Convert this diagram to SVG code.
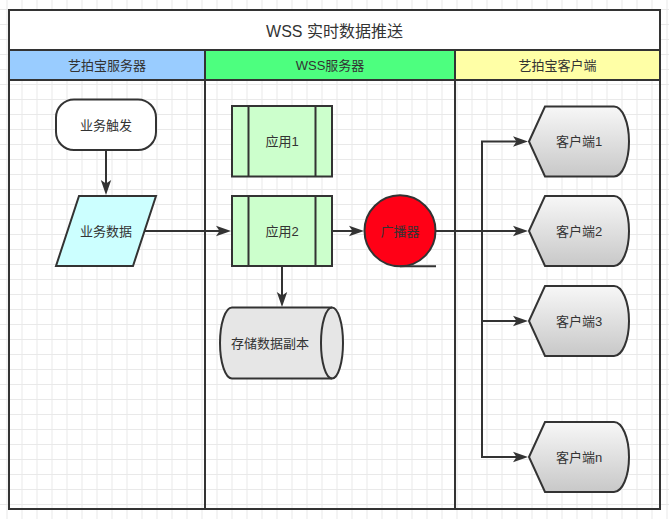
<svg xmlns="http://www.w3.org/2000/svg" width="669" height="519" viewBox="0 0 669 519">
<style>
.ln{fill:none;stroke:#333;stroke-width:2}
.t{font-family:"Liberation Sans","Noto Sans CJK SC",sans-serif;font-size:13px;fill:#333;text-anchor:middle;dominant-baseline:central}
.title{font-size:16px}
.node{stroke:#333;stroke-width:2}
.conn{fill:none;stroke:#333;stroke-width:2;marker-end:url(#arr)}
</style>
<defs>
<pattern id="grid" x="6.5" y="9" width="15" height="15" patternUnits="userSpaceOnUse">
<path d="M0,0.5 H15 M0.5,0 V15" fill="none" stroke="#e9e9e9" stroke-width="1"/>
</pattern>
<linearGradient id="cg" x1="0" y1="0" x2="0" y2="1">
<stop offset="0" stop-color="#f7f7f7"/>
<stop offset="1" stop-color="#c8c8c8"/>
</linearGradient>
<marker id="arr" markerUnits="userSpaceOnUse" markerWidth="16" markerHeight="12" refX="11" refY="6" orient="auto">
<path d="M0,0.8 L15,6 L0,11.2 L3.5,6 Z" fill="#333"/>
</marker>
</defs>
<rect width="669" height="519" fill="#ffffff"/>
<rect width="669" height="519" fill="url(#grid)"/>

<g id="pool">
<rect x="9" y="10" width="651" height="40" fill="#ffffff"/>
<rect x="9" y="50" width="196" height="30" fill="#99ccff"/>
<rect x="205" y="50" width="250" height="30" fill="#4dff7f"/>
<rect x="455" y="50" width="205" height="30" fill="#ffffa6"/>
<rect x="9" y="10" width="651" height="499" class="ln"/>
<path d="M9,50 H660 M9,80 H660 M205,50 V509 M455,50 V509" class="ln"/>
<text x="334.5" y="31" class="t title">WSS 实时数据推送</text>
<text x="107" y="65" class="t">艺拍宝服务器</text>
<text x="330" y="65" class="t">WSS服务器</text>
<text x="557.5" y="65" class="t">艺拍宝客户端</text>
</g>

<g id="connectors">
<path d="M106,150 V191" class="conn"/>
<path d="M144.5,231 H227" class="conn"/>
<path d="M332,231 H360" class="conn"/>
<path d="M282,266 V303" class="conn"/>
<path d="M436,231 H524" class="conn"/>
<path d="M482,231 V141.5 H524" class="conn"/>
<path d="M482,231 V321 H524" class="conn"/>
<path d="M482,231 V457 H524" class="conn"/>
</g>

<g id="n-trigger">
<rect x="56" y="99.5" width="100" height="50.5" rx="18" ry="18" fill="#ffffff" class="node"/>
<text x="106" y="125" class="t">业务触发</text>
</g>
<g id="n-data">
<path d="M79,196 H156 L133,266 H56 Z" fill="#ccffff" class="node"/>
<text x="106" y="231" class="t">业务数据</text>
</g>
<g id="n-app1">
<rect x="232" y="106" width="100" height="70.5" fill="#ccffcc" class="node"/>
<path d="M248.5,106 V176.5 M315.5,106 V176.5" class="ln"/>
<text x="282" y="141.5" class="t">应用1</text>
</g>
<g id="n-app2">
<rect x="232" y="196" width="100" height="70" fill="#ccffcc" class="node"/>
<path d="M248.5,196 V266 M315.5,196 V266" class="ln"/>
<text x="282" y="231" class="t">应用2</text>
</g>
<g id="n-broadcast">
<circle cx="400" cy="230.8" r="35.5" fill="#ff0016" class="node"/>
<path d="M400,266.3 H436" class="ln"/>
<text x="400" y="231" class="t">广播器</text>
</g>
<g id="n-store">
<path d="M232,307.5 H332 A11,35.5 0 0 1 332,378.5 H232 A12,35.5 0 0 1 232,307.5 Z" fill="#e6e6e6" class="node"/>
<path d="M332,307.5 A11,35.5 0 0 0 332,378.5" class="ln"/>
<text x="270" y="343" class="t">存储数据副本</text>
</g>
<g id="n-client1">
<path d="M529,141.5 L545,106.5 H614 A15,35 0 0 1 614,176.5 H545 Z" fill="url(#cg)" class="node"/>
<text x="579" y="141.5" class="t">客户端1</text>
</g>
<g id="n-client2">
<path d="M529,231 L545,196 H614 A15,35 0 0 1 614,266 H545 Z" fill="url(#cg)" class="node"/>
<text x="579" y="231" class="t">客户端2</text>
</g>
<g id="n-client3">
<path d="M529,321 L545,286 H614 A15,35 0 0 1 614,356 H545 Z" fill="url(#cg)" class="node"/>
<text x="579" y="321" class="t">客户端3</text>
</g>
<g id="n-clientn">
<path d="M529,457 L545,422 H614 A15,35 0 0 1 614,492 H545 Z" fill="url(#cg)" class="node"/>
<text x="579" y="457" class="t">客户端n</text>
</g>
</svg>
